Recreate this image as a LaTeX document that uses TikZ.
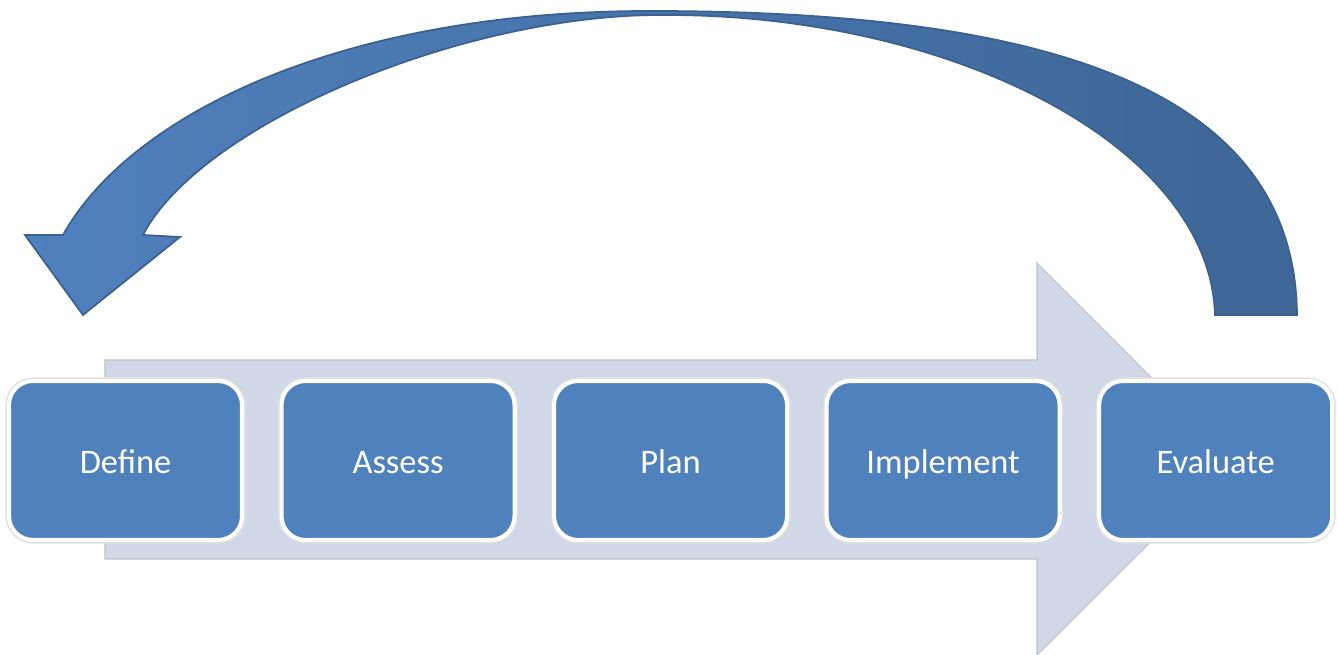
\documentclass[tikz,border=0pt]{standalone}
\usepackage{fontspec}
\setmainfont{Carlito}
\usetikzlibrary{positioning}

\definecolor{stageblue}{HTML}{4F81BD}
\definecolor{bandfill}{HTML}{D1D8E8}
\definecolor{bandline}{HTML}{BCC1CB}
\definecolor{loopleft}{HTML}{5080BD}
\definecolor{loopright}{HTML}{3E6696}
\definecolor{loopline}{HTML}{3A6190}

\begin{document}
\begin{tikzpicture}[
  node distance=4mm and 3.55mm,
  stage/.style={fill=stageblue, draw=white, line width=1.15pt, rounded corners=2.4mm,
                minimum width=2.33cm, minimum height=1.59cm, text=white,
                text height=1.7ex, text depth=0.2ex,
                font=\fontsize{9.8}{12}\selectfont,
                preaction={draw=black!12, line width=2pt}},
  band/.style={fill=bandfill, draw=bandline, line width=0.3pt},
  loop/.style={left color=loopleft, right color=loopright, draw=loopline, line width=0.5pt}
]
  \useasboundingbox (0,0) rectangle (13.38,6.55);

  % wide arrow behind the stages
  \path[band] (1.05,2.95) -- (10.37,2.95) -- (10.37,3.92) -- (12.33,1.955)
    -- (10.37,0) -- (10.37,0.96) -- (1.05,0.96) -- cycle;

  \node[stage] (define) at (1.255,1.945) {Define};
  \node[stage, right=of define] (assess) {Assess};
  \node[stage, right=of assess] (plan) {Plan};
  \node[stage, right=of plan] (implement) {Implement};
  \node[stage, right=of implement] (evaluate) {Evaluate};

  % feedback arrow from the last stage back to the first
  \path[loop] (0.63,4.20)
    .. controls (1.30,5.40) and (3.40,6.44) .. (6.50,6.44)
    .. controls (10.40,6.44) and (12.95,5.70) .. (12.97,3.40)
    -- (12.15,3.40)
    .. controls (12.10,5.10) and (9.50,6.42) .. (6.60,6.40)
    .. controls (4.60,6.40) and (2.00,5.30) .. (1.43,4.20)
    -- (1.80,4.18) -- (0.83,3.40) -- (0.25,4.20) -- cycle;
\end{tikzpicture}
\end{document}
